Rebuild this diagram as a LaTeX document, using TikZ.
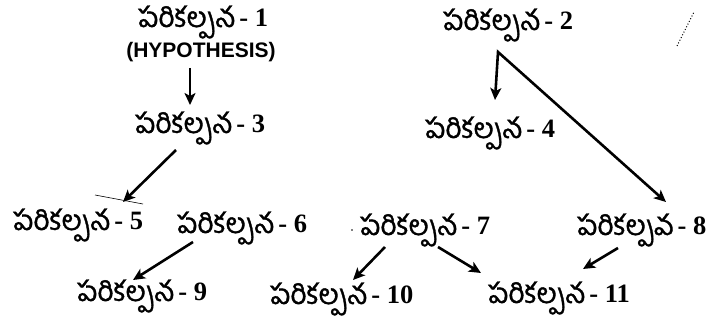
\documentclass[tikz,border=0pt]{standalone}
\usepackage{fontspec}
\usetikzlibrary{arrows.meta,calc}
\newfontfamily\tel[Script=Telugu,FakeBold=1.2]{Hind Guntur}
\newfontfamily\numf{Liberation Serif}
\newfontfamily\hypf{Liberation Sans}
\newcommand\lbl[2]{\smash{\tel\fontsize{28}{30}\selectfont #1}\hspace{4pt}{\numf\bfseries\fontsize{26.5}{27}\selectfont - #2}}
\begin{document}
\begin{tikzpicture}[x=1pt,y=-1pt,
  lab/.style={inner sep=0pt,anchor=base west},
  tipa/.tip={Stealth[length=12pt,width=11pt,inset=3pt]},
  arr/.style={line width=2.6pt,-tipa}]
\useasboundingbox (0,0) rectangle (712,320);
\node[lab] (n1) at (138,27) {\lbl{పరికల్పన}{1}};
\node[inner sep=0pt,font=\hypf\bfseries\fontsize{21}{22}\selectfont] (hyp) at (201,52) {(HYPOTHESIS)};
\node[lab] (n2) at (443,30) {\lbl{పరికల్పన}{2}};
\node[lab] (n3) at (135,133) {\lbl{పరికల్పన}{3}};
\node[lab] (n4) at (425,138) {\lbl{పరికల్పన}{4}};
\node[lab] (n5) at (13,230) {\lbl{పరికల్పన}{5}};
\node[lab] (n6) at (177,233) {\lbl{పరికల్పన}{6}};
\node[lab] (n7) at (360,235) {\lbl{పరికల్పన}{7}};
\node[lab] (n8) at (577,235) {\lbl{పరికల్పవ}{8}};
\node[lab] (n9) at (77,301) {\lbl{పరికల్పన}{9}};
\node[lab] (n10) at (270,304) {\lbl{పరికల్పన}{10}};
\node[lab] (n11) at (488,303) {\lbl{పరికల్పన}{11}};
% connectors
\draw[arr] ($(hyp.center)+(-11,16)$) -- ($(n3.base west)+(55,-28)$);
\draw[arr] ($(n3.base west)+(41,17)$) -- ($(n5.base west)+(110,-28)$);
\draw[arr,tipa-tipa,line join=miter]
  ($(n4.base west)+(70,-38)$) -- ($(n2.base west)+(55,22)$) -- ($(n8.base west)+(89,-33)$);
\draw[arr] ($(n6.base west)+(16,9)$) -- ($(n9.base west)+(56,-21)$);
\draw[arr] ($(n7.base west)+(25,12)$) -- ($(n10.base west)+(83,-24)$);
\draw[arr] ($(n7.base west)+(78,12)$) -- ($(n11.base west)+(-7,-30)$);
\draw[arr] ($(n8.base west)+(41,13)$) -- ($(n11.base west)+(95,-34)$);
% scan marks
\draw[line width=0.6pt] (95,195) -- (143,204);
\draw[line width=1pt,dotted] (677,46) -- (694,12);
\fill (352,230) circle (0.8pt);
\end{tikzpicture}
\end{document}
